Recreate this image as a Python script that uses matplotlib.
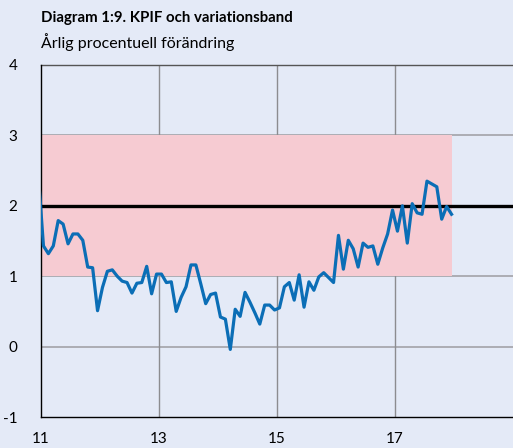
import matplotlib
matplotlib.use("Agg")
import matplotlib.pyplot as plt
import numpy as np

plt.rcParams['font.family'] = ['Lato', 'DejaVu Sans']

# Monthly KPIF, annual % change, Dec 2010 .. Dec 2017
start_year = 2010
start_month = 12
kpif = [2.4,
        1.43, 1.32, 1.43, 1.79, 1.74, 1.46, 1.60, 1.60, 1.51, 1.13, 1.12, 0.51,
        0.84, 1.07, 1.09, 1.00, 0.93, 0.91, 0.76, 0.90, 0.91, 1.14, 0.75, 1.03,
        1.03, 0.91, 0.92, 0.50, 0.70, 0.85, 1.16, 1.16, 0.89, 0.61, 0.74, 0.76,
        0.42, 0.39, -0.04, 0.53, 0.43, 0.77, 0.63, 0.48, 0.32, 0.59, 0.59, 0.52,
        0.55, 0.85, 0.91, 0.66, 1.02, 0.56, 0.92, 0.80, 0.99, 1.05, 0.98, 0.91,
        1.58, 1.10, 1.51, 1.39, 1.13, 1.47, 1.41, 1.43, 1.17, 1.40, 1.60, 1.94,
        1.64, 2.00, 1.47, 2.03, 1.90, 1.88, 2.35, 2.31, 2.27, 1.81, 1.99, 1.88]

target = 2.0
band_low, band_high = 1.0, 3.0
band_start, band_end = 2011.0, 2017.97

xticks = [2011, 2013, 2015, 2017]
xtick_labels = ["11", "13", "15", "17"]
yticks = [-1, 0, 1, 2, 3, 4]
ytick_labels = ["-1", "0", "1", "2", "3", "4"]

title = "Diagram 1:9. KPIF och variationsband"
subtitle = "Årlig procentuell förändring"

# mid-month positions
months = np.arange(len(kpif))
x = start_year + (start_month - 1 + months + 0.5) / 12.0

bg = "#E4EAF7"
fig = plt.figure(figsize=(5.13, 4.48), dpi=100, facecolor=bg)
ax = fig.add_axes([41/513, 31/448, 1 - 41/513, (417-65)/448])
ax.set_facecolor(bg)

ax.set_xlim(2011, 2019)
ax.set_ylim(-1, 4)

# gridlines
for yv in yticks:
    if yv in (-1, target):
        continue
    ax.axhline(yv, color="#A8A8AE", lw=1.3, zorder=1)
for xv in xticks[1:]:
    ax.axvline(xv, color="#8C8C90", lw=1.0, zorder=1)

ax.fill_between([band_start, band_end], band_low, band_high, color="#F6CBD2", lw=0, zorder=2)
ax.axhline(target, color="black", lw=2.4, zorder=3)
ax.plot(x, kpif, color="#0B6EB6", lw=2.3, zorder=4)

for s in ["top", "right"]:
    ax.spines[s].set_visible(False)
ax.spines["left"].set_color("black")
ax.spines["bottom"].set_color("black")
ax.spines["left"].set_linewidth(1.0)
ax.spines["bottom"].set_linewidth(1.0)
ax.axhline(4, color="#555555", lw=1.0, zorder=1, clip_on=False)

ax.set_xticks(xticks)
ax.set_xticklabels(xtick_labels)
ax.set_yticks(yticks)
ax.set_yticklabels(ytick_labels)
ax.tick_params(axis="both", length=0, labelsize=11, colors="black")
ax.tick_params(axis="x", pad=11)
ax.tick_params(axis="y", pad=17)

fig.text(41/513, 1 - 18/448, title, fontsize=10.8, fontweight="bold", va="center", ha="left")
fig.text(41/513, 1 - 42/448, subtitle, fontsize=11.5, va="center", ha="left")

fig.savefig("out.png", dpi=100, facecolor=bg)
